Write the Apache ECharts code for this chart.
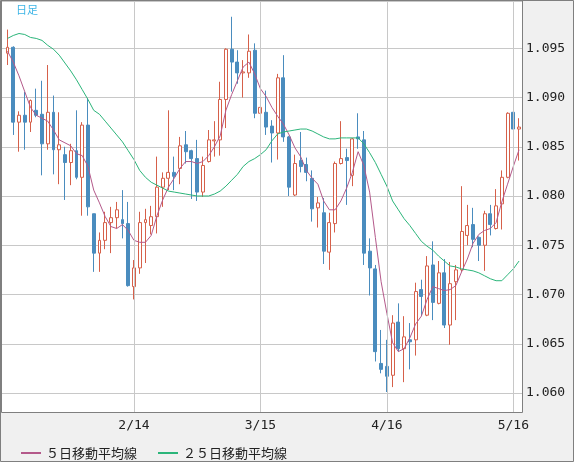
<!DOCTYPE html>
<html>
<head>
<meta charset="utf-8">
<script src="https://cdn.jsdelivr.net/npm/echarts@6/dist/echarts.min.js"></script>
<style>
html,body{margin:0;padding:0;background:#f0f0f0;}
#c{width:574px;height:462px;}
</style>
</head>
<body>
<div id="c"></div>
<script>
// Categories: trading days (2024)
const dates = [
 '1/15','1/16','1/17','1/18','1/19','1/22','1/23','1/24','1/25','1/26','1/29','1/30','1/31',
 '2/1','2/2','2/5','2/6','2/7','2/8','2/9','2/12','2/13','2/14','2/15','2/16','2/19','2/20','2/21','2/22','2/23','2/26','2/27','2/28','2/29',
 '3/1','3/4','3/5','3/6','3/7','3/8','3/11','3/12','3/13','3/14','3/15','3/18','3/19','3/20','3/21','3/22','3/25','3/26','3/27','3/28','3/29',
 '4/1','4/2','4/3','4/4','4/5','4/8','4/9','4/10','4/11','4/12','4/15','4/16','4/17','4/18','4/19','4/22','4/23','4/24','4/25','4/26','4/29','4/30',
 '5/1','5/2','5/3','5/6','5/7','5/8','5/9','5/10','5/13','5/14','5/15','5/16','5/17'
];
const tickLabels = ['2/14','3/15','4/16','5/16'];
// [open, close, low, high]
const ohlc = [
 [1.0945,1.0951,1.0933,1.0969],[1.0951,1.0875,1.0862,1.0952],[1.0875,1.0882,1.0845,1.0886],[1.0882,1.0875,1.0847,1.0906],
 [1.0875,1.0897,1.0865,1.0898],[1.0887,1.0882,1.0880,1.0909],[1.0883,1.0853,1.0821,1.0917],[1.0853,1.0885,1.0847,1.0933],
 [1.0885,1.0847,1.0822,1.0902],[1.0847,1.0852,1.0812,1.0885],[1.0842,1.0834,1.0796,1.0850],[1.0834,1.0846,1.0811,1.0853],
 [1.0846,1.0819,1.0817,1.0887],[1.0819,1.0872,1.0780,1.0875],[1.0872,1.0789,1.0780,1.0899],[1.0782,1.0742,1.0723,1.0782],
 [1.0742,1.0755,1.0723,1.0763],[1.0755,1.0773,1.0746,1.0784],[1.0773,1.0778,1.0742,1.0789],[1.0778,1.0786,1.0767,1.0794],
 [1.0776,1.0772,1.0757,1.0806],[1.0772,1.0709,1.0708,1.0794],[1.0708,1.0727,1.0695,1.0735],[1.0727,1.0773,1.0721,1.0784],
 [1.0773,1.0776,1.0732,1.0787],[1.0770,1.0779,1.0761,1.0790],[1.0779,1.0809,1.0762,1.0840],[1.0809,1.0818,1.0789,1.0824],
 [1.0818,1.0824,1.0806,1.0887],[1.0824,1.0820,1.0806,1.0840],[1.0828,1.0851,1.0812,1.0860],[1.0852,1.0845,1.0833,1.0866],
 [1.0846,1.0838,1.0797,1.0847],[1.0838,1.0804,1.0795,1.0857],[1.0804,1.0831,1.0799,1.0840],[1.0835,1.0857,1.0834,1.0867],
 [1.0856,1.0857,1.0840,1.0876],[1.0857,1.0898,1.0841,1.0916],[1.0898,1.0949,1.0869,1.0950],[1.0949,1.0936,1.0906,1.0982],
 [1.0936,1.0925,1.0914,1.0948],[1.0925,1.0926,1.0900,1.0938],[1.0925,1.0947,1.0920,1.0964],[1.0948,1.0884,1.0879,1.0955],
 [1.0884,1.0890,1.0874,1.0900],[1.0885,1.0870,1.0862,1.0907],[1.0871,1.0864,1.0834,1.0877],[1.0864,1.0920,1.0837,1.0924],
 [1.0920,1.0860,1.0855,1.0943],[1.0860,1.0809,1.0800,1.0861],[1.0801,1.0833,1.0800,1.0842],[1.0836,1.0830,1.0824,1.0865],
 [1.0832,1.0824,1.0815,1.0839],[1.0818,1.0787,1.0774,1.0826],[1.0788,1.0793,1.0768,1.0799],[1.0783,1.0744,1.0731,1.0798],
 [1.0743,1.0773,1.0725,1.0783],[1.0772,1.0833,1.0763,1.0835],[1.0833,1.0838,1.0832,1.0876],[1.0839,1.0836,1.0791,1.0848],
 [1.0821,1.0858,1.0810,1.0859],[1.0860,1.0858,1.0848,1.0884],[1.0857,1.0742,1.0730,1.0866],[1.0744,1.0727,1.0699,1.0757],
 [1.0726,1.0642,1.0632,1.0730],[1.0630,1.0624,1.0620,1.0664],[1.0627,1.0617,1.0601,1.0654],[1.0618,1.0671,1.0606,1.0679],
 [1.0672,1.0645,1.0642,1.0691],[1.0645,1.0657,1.0611,1.0678],[1.0654,1.0652,1.0624,1.0671],[1.0654,1.0703,1.0638,1.0712],
 [1.0705,1.0698,1.0678,1.0715],[1.0679,1.0729,1.0678,1.0739],[1.0730,1.0692,1.0674,1.0754],[1.0691,1.0722,1.0690,1.0734],
 [1.0722,1.0669,1.0666,1.0736],[1.0669,1.0711,1.0649,1.0733],[1.0713,1.0725,1.0674,1.0730],[1.0725,1.0764,1.0723,1.0810],
 [1.0760,1.0770,1.0750,1.0791],[1.0771,1.0756,1.0748,1.0788],[1.0758,1.0750,1.0734,1.0759],[1.0750,1.0782,1.0724,1.0785],
 [1.0782,1.0771,1.0760,1.0791],[1.0767,1.0790,1.0766,1.0807],[1.0792,1.0819,1.0766,1.0826],[1.0819,1.0884,1.0818,1.0885],
 [1.0885,1.0868,1.0854,1.0895],[1.0868,1.0870,1.0836,1.0879]
];
const ma5 = [
 1.0947,1.0936,1.0922,1.0906,1.0890,1.0882,1.0879,1.0876,1.0867,1.0857,
 1.0854,1.0851,1.0843,1.0841,1.0830,1.0806,1.0793,1.0779,1.0769,1.0767,
 1.0771,1.0765,1.0755,1.0753,1.0753,1.0760,1.0780,1.0796,1.0809,1.0818,
 1.0828,1.0835,1.0835,1.0833,1.0835,1.0841,1.0850,1.0861,1.0887,1.0903,
 1.0917,1.0931,1.0936,1.0924,1.0909,1.0901,1.0890,1.0881,1.0873,1.0862,
 1.0849,1.0840,1.0826,1.0818,1.0812,1.0795,1.0786,1.0786,1.0795,1.0808,
 1.0824,1.0845,1.0831,1.0804,1.0758,1.0713,1.0681,1.0651,1.0642,1.0645,
 1.0656,1.0670,1.0678,1.0695,1.0708,1.0706,1.0704,1.0705,1.0709,1.0723,
 1.0736,1.0752,1.0761,1.0765,1.0767,1.0773,1.0794,1.0812,1.0830,1.0847
];
const ma25 = [
 1.0960,1.0963,1.0965,1.0964,1.0961,1.0960,1.0958,1.0953,1.0949,1.0943,
 1.0935,1.0927,1.0918,1.0908,1.0898,1.0887,1.0883,1.0876,1.0869,1.0862,
 1.0855,1.0846,1.0837,1.0826,1.0819,1.0814,1.0811,1.0808,1.0805,1.0804,
 1.0803,1.0802,1.0801,1.0800,1.0800,1.0800,1.0802,1.0805,1.0810,1.0816,
 1.0822,1.0830,1.0835,1.0838,1.0842,1.0847,1.0856,1.0863,1.0865,1.0866,
 1.0867,1.0868,1.0868,1.0866,1.0863,1.0860,1.0858,1.0858,1.0859,1.0859,
 1.0859,1.0859,1.0853,1.0844,1.0834,1.0822,1.0810,1.0795,1.0786,1.0777,
 1.0770,1.0762,1.0754,1.0749,1.0745,1.0739,1.0734,1.0729,1.0728,1.0726,
 1.0725,1.0724,1.0722,1.0719,1.0716,1.0714,1.0714,1.0720,1.0726,1.0734
];

const Y_MIN = 1.05802, Y_MAX = 1.0998;
const UP = '#d6604a', DOWN = '#4a8cbe';
const C5 = '#b4598a', C25 = '#2bb57a';
const mono = 'DejaVu Sans Mono';
const jp = 'Noto Sans CJK JP';

const chart = echarts.init(document.getElementById('c'), null, {renderer: 'canvas'});
chart.setOption({
  animation: false,
  backgroundColor: '#f0f0f0',
  title: {
    text: '日足', left: 16, top: 4, padding: 0,
    textStyle: {fontSize: 11, fontWeight: 'normal', color: '#3cb4e6', fontFamily: jp}
  },
  legend: {
    left: 15, top: 441.5, itemWidth: 20, itemHeight: 12, itemGap: 20,
    itemStyle: {opacity: 0},
    textStyle: {fontSize: 13, color: '#222', fontFamily: jp},
    data: ['５日移動平均線', '２５日移動平均線']
  },
  grid: [
    {left: 2, top: 1, width: 520, height: 411.5, show: true, backgroundColor: '#ffffff', borderWidth: 0},
    {left: 4.63, top: 1, width: 517.3, height: 411.5, show: false}
  ],
  xAxis: [
    {type: 'value', gridIndex: 0, min: 0, max: 1, show: false},
    {type: 'category', gridIndex: 1, data: dates, boundaryGap: true,
     axisLine: {show: false}, axisTick: {show: false}, splitLine: {show: false},
     axisLabel: {interval: (i, v) => tickLabels.indexOf(v) >= 0, margin: 7,
       fontFamily: mono, fontSize: 13, color: '#222'}}
  ],
  yAxis: [
    {type: 'value', gridIndex: 0, position: 'right', min: Y_MIN, max: Y_MAX, splitNumber: 8,
     axisLine: {show: false}, axisTick: {show: false},
     splitLine: {show: true, lineStyle: {color: '#c8c8c8', width: 1}},
     axisLabel: {margin: 4, showMinLabel: false, showMaxLabel: false,
       formatter: v => v.toFixed(3), fontFamily: mono, fontSize: 13, color: '#222'}},
    {type: 'value', gridIndex: 1, min: Y_MIN, max: Y_MAX, show: false}
  ],
  series: [
    {type: 'line', name: 'grid', xAxisIndex: 1, yAxisIndex: 1, data: [], z: 1, silent: true,
     markLine: {silent: true, symbol: ['none', 'none'], label: {show: false},
       lineStyle: {color: '#c8c8c8', width: 1, type: 'solid'},
       data: tickLabels.map(d => ({xAxis: d}))}},
    {type: 'candlestick', name: 'rate', xAxisIndex: 1, yAxisIndex: 1, data: ohlc, barWidth: 3.4, z: 2,
     itemStyle: {color: '#ffffff', color0: DOWN, borderColor: UP, borderColor0: DOWN, borderWidth: 1}},
    {type: 'line', name: '５日移動平均線', xAxisIndex: 1, yAxisIndex: 1, data: ma5, z: 3,
     showSymbol: false, symbol: 'none', itemStyle: {color: C5}, lineStyle: {width: 1, color: C5}},
    {type: 'line', name: '２５日移動平均線', xAxisIndex: 1, yAxisIndex: 1, data: ma25, z: 3,
     showSymbol: false, symbol: 'none', itemStyle: {color: C25}, lineStyle: {width: 1, color: C25}}
  ],
  graphic: [
    {type: 'rect', z: 100, silent: true, shape: {x: 1.5, y: 0.5, width: 521, height: 412},
     style: {fill: null, stroke: '#7f7f7f', lineWidth: 1}},
    {type: 'rect', z: 100, silent: true, shape: {x: 0.5, y: 0.5, width: 573, height: 461},
     style: {fill: null, stroke: '#7f7f7f', lineWidth: 1}}
  ]
});
</script>
</body>
</html>
